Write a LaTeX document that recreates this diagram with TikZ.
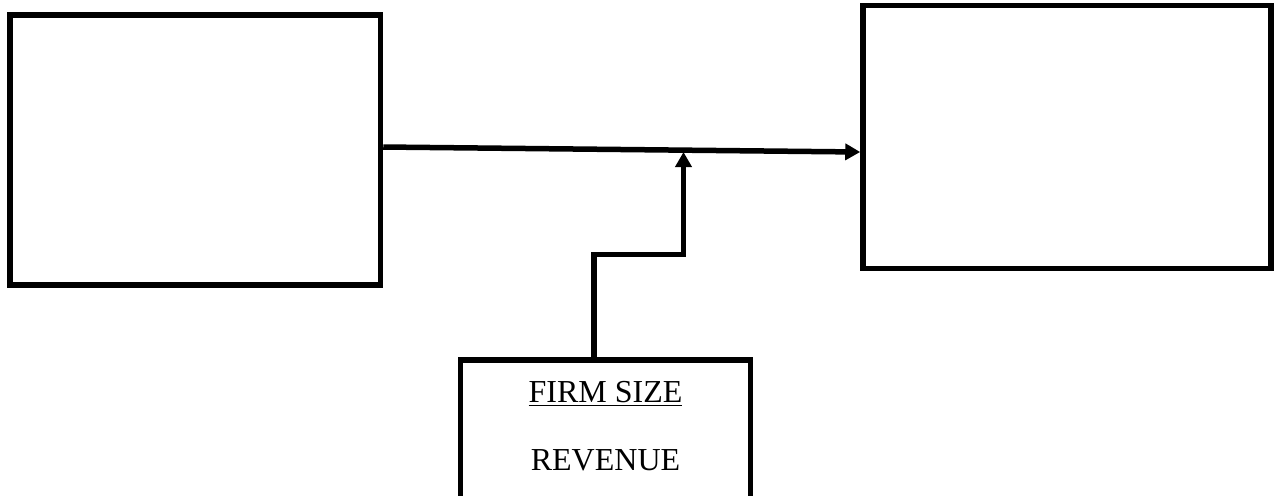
\documentclass[tikz,border=0pt]{standalone}
\usepackage{fontspec}
\setmainfont{Liberation Serif}
\usetikzlibrary{arrows.meta,positioning,calc}

\begin{document}
\begin{tikzpicture}[x=0.5pt,y=-0.5pt,
  box/.style={draw,line width=2.75pt,minimum width=#1,inner sep=0pt},
  arr/.style={-{Triangle[length=7.5pt,width=8pt]},line width=2.75pt}]
  \useasboundingbox (0,0) rectangle (1276,495);
  \node[box=185.25pt,minimum height=135pt] (indep) at (195.25,150) {};
  \node[box=204pt,minimum height=131.5pt] (dep) at (1067,137) {};
  \node[box=145pt,minimum height=80pt] (size) at (605.5,440) {};
  \node[font=\fontsize{16}{34}\selectfont,align=center] (sizetxt) at (605.5,426) {\underline{FIRM SIZE}\\REVENUE};
  \coordinate (hit) at (683.5,152);
  \draw[arr] ($(indep.east)+(0,-3)$) -- ($(dep.west)+(0,15)$);
  \draw[arr] ($(size.north)+(-11.5,0)$) -- ++(0,-103) -| (hit);
\end{tikzpicture}
\end{document}
